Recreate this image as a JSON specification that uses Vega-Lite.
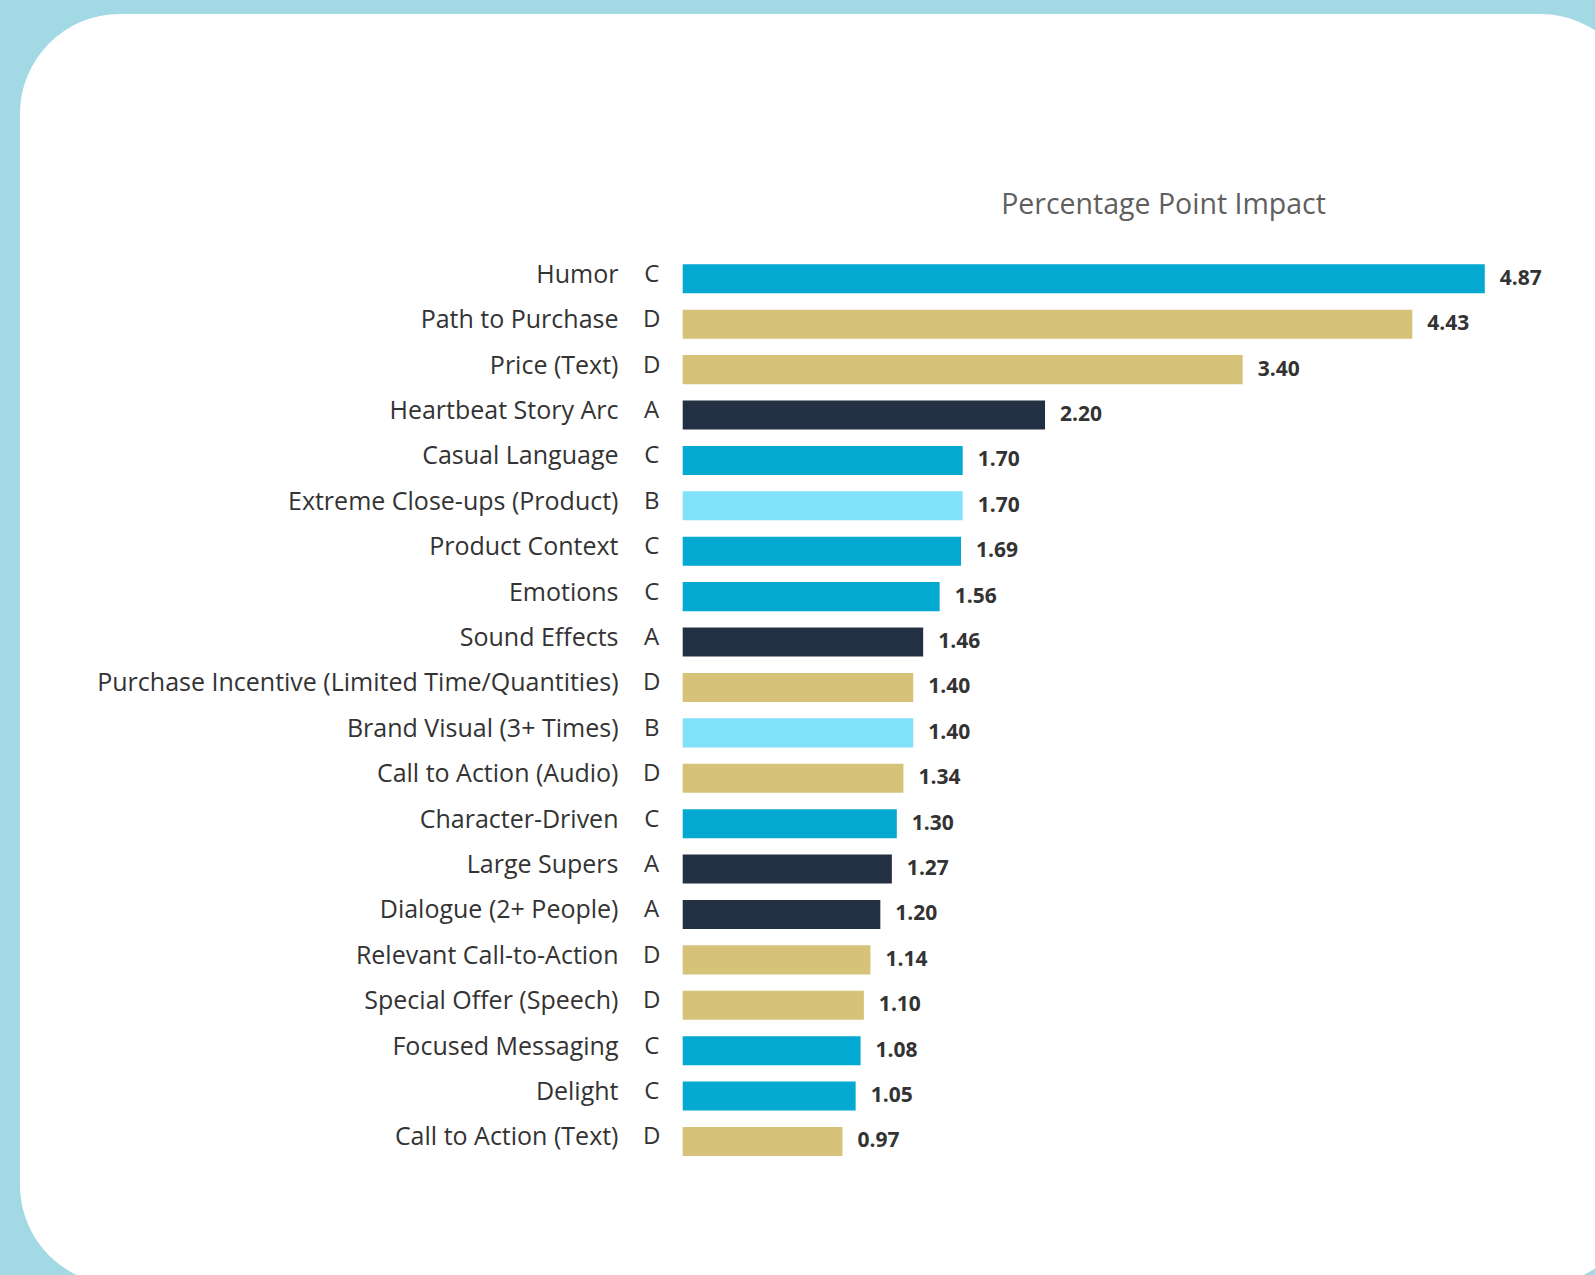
{
  "$schema": "https://vega.github.io/schema/vega-lite/v6.json",
  "width": 1620,
  "height": 1271,
  "autosize": {"type": "none"},
  "padding": {"left": 20, "top": 14, "right": 0, "bottom": 0},
  "background": "#a3d9e5",
  "config": {"view": {"fill": "#ffffff", "cornerRadius": 100, "stroke": null}},
  "data": {
    "values": [
      {"feature": "Humor", "group": "C", "impact": 4.87},
      {"feature": "Path to Purchase", "group": "D", "impact": 4.43},
      {"feature": "Price (Text)", "group": "D", "impact": 3.40},
      {"feature": "Heartbeat Story Arc", "group": "A", "impact": 2.20},
      {"feature": "Casual Language", "group": "C", "impact": 1.70},
      {"feature": "Extreme Close-ups (Product)", "group": "B", "impact": 1.70},
      {"feature": "Product Context", "group": "C", "impact": 1.69},
      {"feature": "Emotions", "group": "C", "impact": 1.56},
      {"feature": "Sound Effects", "group": "A", "impact": 1.46},
      {"feature": "Purchase Incentive (Limited Time/Quantities)", "group": "D", "impact": 1.40},
      {"feature": "Brand Visual (3+ Times)", "group": "B", "impact": 1.40},
      {"feature": "Call to Action (Audio)", "group": "D", "impact": 1.34},
      {"feature": "Character-Driven", "group": "C", "impact": 1.30},
      {"feature": "Large Supers", "group": "A", "impact": 1.27},
      {"feature": "Dialogue (2+ People)", "group": "A", "impact": 1.20},
      {"feature": "Relevant Call-to-Action", "group": "D", "impact": 1.14},
      {"feature": "Special Offer (Speech)", "group": "D", "impact": 1.10},
      {"feature": "Focused Messaging", "group": "C", "impact": 1.08},
      {"feature": "Delight", "group": "C", "impact": 1.05},
      {"feature": "Call to Action (Text)", "group": "D", "impact": 0.97}
    ]
  },
  "encoding": {
    "y": {
      "field": "feature",
      "type": "nominal",
      "sort": null,
      "scale": {"range": [250.3, 1142], "paddingInner": 0.36, "paddingOuter": 0},
      "axis": {
        "title": null,
        "orient": "left",
        "offset": -598,
        "domain": false,
        "ticks": false,
        "grid": false,
        "labelPadding": 0,
        "labelOffset": -4,
        "labelFont": "Open Sans",
        "labelFontSize": 25,
        "labelColor": "#333333",
        "labelLimit": 0
      }
    }
  },
  "layer": [
    {
      "mark": {"type": "bar"},
      "encoding": {
        "x": {
          "field": "impact",
          "type": "quantitative",
          "scale": {"domain": [0, 5], "range": [662.7, 1486.2], "nice": false, "zero": true},
          "axis": {
            "orient": "top",
            "labels": false,
            "ticks": false,
            "domain": false,
            "grid": false,
            "title": "Percentage Point Impact",
            "titleFont": "Open Sans",
            "titleFontSize": 28.5,
            "titleFontWeight": "normal",
            "titleColor": "#5f5f5f",
            "titleX": 1143,
            "titleY": 190,
            "titleAlign": "center",
            "titleBaseline": "middle"
          }
        },
        "color": {
          "field": "group",
          "type": "nominal",
          "scale": {"domain": ["A", "B", "C", "D"], "range": ["#233043", "#80e1f9", "#03a9d0", "#d6c279"]},
          "legend": null
        }
      }
    },
    {
      "mark": {"type": "text", "align": "center", "baseline": "middle", "dx": -31, "dy": -4, "font": "Open Sans", "fontSize": 24, "color": "#333333"},
      "encoding": {
        "x": {"datum": 0},
        "text": {"field": "group"}
      }
    },
    {
      "mark": {"type": "text", "align": "left", "baseline": "middle", "dx": 15, "font": "Open Sans", "fontSize": 21, "fontWeight": "bold", "color": "#333333"},
      "encoding": {
        "x": {"field": "impact", "type": "quantitative"},
        "text": {"field": "impact", "type": "quantitative", "format": ".2f"}
      }
    }
  ]
}
